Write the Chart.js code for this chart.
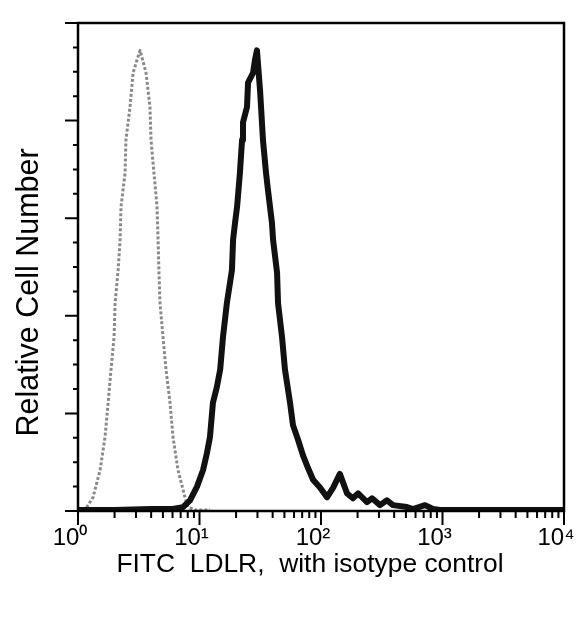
<!DOCTYPE html>
<html>
<head>
<meta charset="utf-8">
<script src="https://cdn.jsdelivr.net/npm/chart.js@4.4.1/dist/chart.umd.min.js"></script>
<style>
html,body{margin:0;padding:0;background:#fff;}
canvas{display:block;}
</style>
</head>
<body>
<canvas id="c" width="583" height="620"></canvas>
<script>
// Isotype control (grey) histogram: fluorescence intensity vs relative cell number
const isotypeX = [1.00, 1.14, 1.33, 1.52, 1.67, 1.77, 1.87, 1.98, 2.02, 2.14, 2.22, 2.26, 2.44, 2.48, 2.68, 2.84, 3.24, 3.63, 3.91, 3.99, 4.22, 4.47, 4.56, 4.64, 4.73, 5.01, 5.30, 5.72, 6.05, 6.65, 7.60, 8.04, 9.18, 12.2];
const isotypeY = [0.00, 0.01, 0.14, 0.42, 0.76, 1.11, 1.45, 1.78, 2.13, 2.47, 2.78, 3.12, 3.46, 3.80, 4.14, 4.49, 4.72, 4.49, 4.14, 3.80, 3.46, 3.12, 2.78, 2.44, 2.13, 1.78, 1.45, 1.11, 0.76, 0.42, 0.14, 0.04, 0.01, 0.01];

// FITC LDLR (black) histogram
const ldlrX = [1.0, 2.0, 4.0, 6.0, 7.32, 8.35, 9.54, 10.7, 11.5, 12.2, 12.9, 13.9, 14.8, 15.6, 16.8, 18.5, 18.9, 19.6, 20.4, 21.5, 22.4, 22.8, 24.6, 25.1, 27.6, 28.6, 29.7, 31.5, 32.1, 33.3, 35.3, 36.6, 39.5, 40.3, 43.5, 44.3, 47.8, 50.5, 55.6, 58.8, 64.7, 71.1, 78.2, 86.0, 98.1, 112, 126, 143, 164, 183, 202, 239, 263, 306, 349, 391, 510, 572, 718, 835, 954, 10000];
const ldlrY = [0.01, 0.01, 0.02, 0.02, 0.04, 0.11, 0.25, 0.42, 0.59, 0.76, 1.11, 1.27, 1.45, 1.78, 2.13, 2.47, 2.78, 2.95, 3.12, 3.46, 3.80, 3.98, 4.14, 4.39, 4.49, 4.62, 4.72, 4.31, 4.14, 3.80, 3.46, 3.29, 2.95, 2.78, 2.44, 2.13, 1.78, 1.45, 1.11, 0.88, 0.73, 0.57, 0.44, 0.32, 0.24, 0.14, 0.24, 0.38, 0.18, 0.13, 0.18, 0.09, 0.13, 0.06, 0.11, 0.06, 0.04, 0.02, 0.06, 0.02, 0.01, 0.01];

// Axis ticks and labels
const xTickValues = [1, 10, 100, 1000, 10000];
const xTickLabels = ['10\u2070', '10\u00B9', '10\u00B2', '10\u00B3', '10\u2074'];
const xMinorMultipliers = [2, 3, 4, 5, 6, 7, 8, 9];
const yMajorTicks = [0, 1, 2, 3, 4, 5];
const yMinorStep = 0.25;
const xTitle = 'FITC  LDLR,  with isotype control';
const yTitle = 'Relative Cell Number';

const FONT = "'Liberation Sans', Arial, Helvetica, sans-serif";
Chart.defaults.font.family = FONT;
Chart.defaults.color = '#000';

const toPoints = (xs, ys) => xs.map((v, i) => ({x: v, y: ys[i]}));

const frameTicks = {
  id: 'frameTicks',
  afterDraw(chart) {
    const {ctx, chartArea: a, scales: {x, y}} = chart;
    ctx.save();
    ctx.strokeStyle = '#000';
    ctx.lineWidth = 2.5;
    ctx.lineCap = 'square';
    ctx.strokeRect(a.left, a.top, a.right - a.left, a.bottom - a.top);
    ctx.lineWidth = 2;
    ctx.lineCap = 'butt';
    ctx.beginPath();
    // x-axis decade and minor ticks (pointing down)
    xTickValues.forEach(dec => {
      const px = x.getPixelForValue(dec);
      ctx.moveTo(px, a.bottom); ctx.lineTo(px, a.bottom + 14);
      if (dec < 10000) {
        xMinorMultipliers.forEach(m => {
          const mp = x.getPixelForValue(dec * m);
          ctx.moveTo(mp, a.bottom); ctx.lineTo(mp, a.bottom + 7);
        });
      }
    });
    // y-axis major and minor ticks (pointing left)
    yMajorTicks.forEach(v => {
      const py = y.getPixelForValue(v);
      ctx.moveTo(a.left, py); ctx.lineTo(a.left - 13, py);
      if (v < 5) {
        for (let k = 1; k * yMinorStep < 1 - 1e-9; k++) {
          const mpy = y.getPixelForValue(v + k * yMinorStep);
          ctx.moveTo(a.left, mpy); ctx.lineTo(a.left - 5, mpy);
        }
      }
    });
    ctx.stroke();
    ctx.restore();
  }
};

new Chart(document.getElementById('c'), {
  type: 'line',
  data: {
    datasets: [
      {
        label: 'FITC LDLR',
        data: toPoints(ldlrX, ldlrY),
        borderColor: '#111',
        borderWidth: 6,
        borderJoinStyle: 'round',
        borderCapStyle: 'round',
        pointRadius: 0,
        tension: 0,
        fill: false
      },
      {
        label: 'Isotype control',
        data: toPoints(isotypeX, isotypeY),
        borderColor: '#8a8a8a',
        borderWidth: 3,
        borderDash: [3, 2],
        borderJoinStyle: 'round',
        pointRadius: 0,
        tension: 0,
        fill: false
      }
    ]
  },
  options: {
    responsive: false,
    animation: false,
    devicePixelRatio: 1,
    layout: {padding: {top: 23, right: 19, left: 0, bottom: 0}},
    plugins: {legend: {display: false}, tooltip: {enabled: false}},
    scales: {
      x: {
        type: 'logarithmic',
        min: 1,
        max: 10000,
        afterBuildTicks: s => { s.ticks = xTickValues.map(v => ({value: v})); },
        afterFit: s => { s.height = 109; s.paddingLeft = 0; s.paddingRight = 0; },
        grid: {display: false, drawTicks: false},
        border: {display: false},
        ticks: {
          autoSkip: false,
          maxRotation: 0,
          minRotation: 0,
          padding: 13,
          labelOffset: -8,
          color: '#000',
          font: {size: 24, family: FONT},
          callback: v => xTickLabels[xTickValues.indexOf(v)]
        },
        title: {
          display: true,
          text: xTitle + '   ',
          color: '#000',
          font: {size: 26.4, family: FONT},
          padding: {top: 0, bottom: 39}
        }
      },
      y: {
        type: 'linear',
        min: 0,
        max: 5,
        afterFit: s => { s.width = 78; s.paddingTop = 0; s.paddingBottom = 0; },
        grid: {display: false, drawTicks: false},
        border: {display: false},
        ticks: {display: false, stepSize: 1},
        title: {
          display: true,
          text: yTitle + '      ',
          color: '#000',
          font: {size: 30.5, family: FONT},
          padding: {top: 11, bottom: 0}
        }
      }
    }
  },
  plugins: [frameTicks]
});
</script>
</body>
</html>
